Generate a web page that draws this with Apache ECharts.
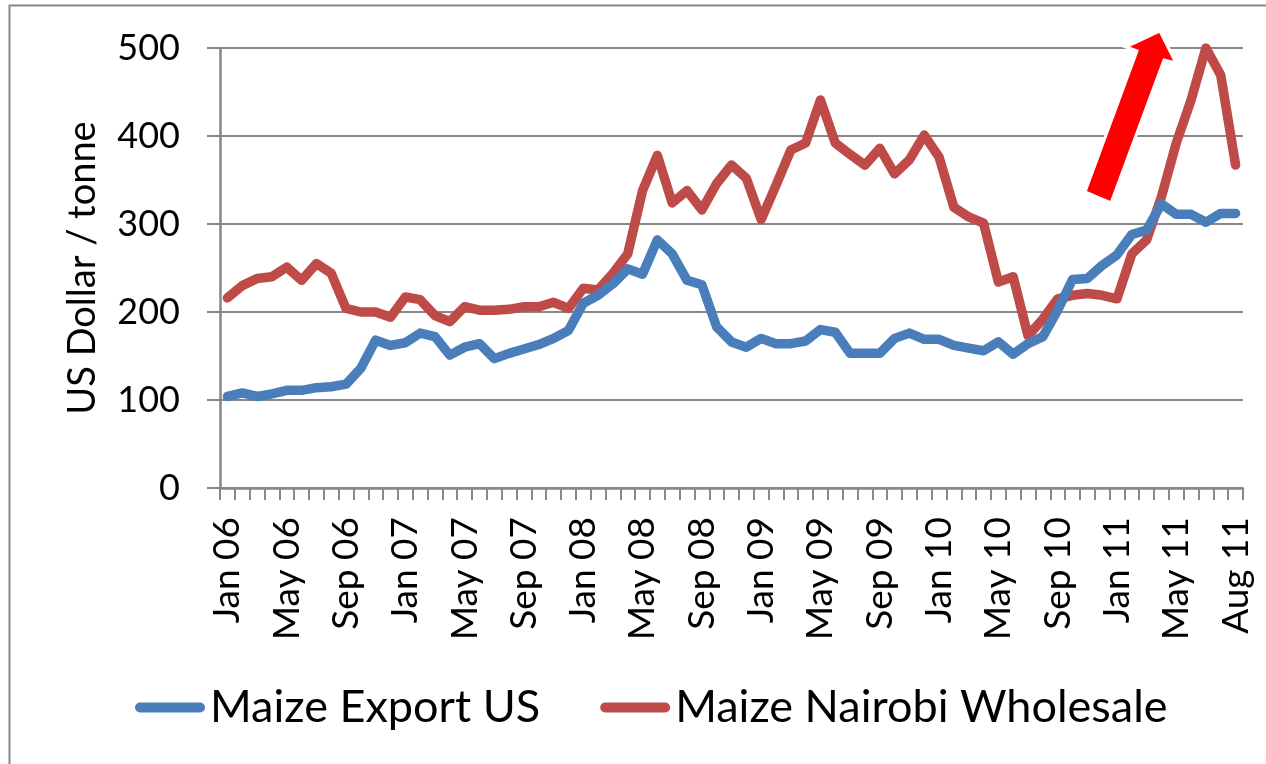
<!DOCTYPE html>
<html>
<head>
<meta charset="utf-8">
<script src="https://cdn.jsdelivr.net/npm/echarts@6/dist/echarts.min.js"></script>
<style>
html,body{margin:0;padding:0;background:#fff;}
#chart{width:1266px;height:764px;}
</style>
</head>
<body>
<div id="chart"></div>
<script>
const categories = [
  "Jan 06","Feb 06","Mar 06","Apr 06","May 06","Jun 06","Jul 06","Aug 06","Sep 06","Oct 06","Nov 06","Dec 06",
  "Jan 07","Feb 07","Mar 07","Apr 07","May 07","Jun 07","Jul 07","Aug 07","Sep 07","Oct 07","Nov 07","Dec 07",
  "Jan 08","Feb 08","Mar 08","Apr 08","May 08","Jun 08","Jul 08","Aug 08","Sep 08","Oct 08","Nov 08","Dec 08",
  "Jan 09","Feb 09","Mar 09","Apr 09","May 09","Jun 09","Jul 09","Aug 09","Sep 09","Oct 09","Nov 09","Dec 09",
  "Jan 10","Feb 10","Mar 10","Apr 10","May 10","Jun 10","Jul 10","Aug 10","Sep 10","Oct 10","Nov 10","Dec 10",
  "Jan 11","Feb 11","Mar 11","Apr 11","May 11","Jun 11","Jul 11","Jul 11","Aug 11"
];
const maizeExportUS = [
  104,108,104,107,111,111,114,115,118,136,
  168,162,165,176,172,151,160,164,147,153,
  158,163,170,179,210,219,232,249,243,282,
  266,236,231,183,166,160,170,164,164,167,
  180,177,153,153,153,170,176,169,169,162,
  159,156,166,152,164,172,202,237,238,253,
  265,288,293,323,311,311,302,312,312
];
const maizeNairobi = [
  216,230,238,240,251,236,255,244,204,200,
  200,194,217,214,196,189,206,202,202,203,
  206,206,211,204,227,225,244,266,338,378,
  324,338,316,346,367,352,305,344,384,392,
  441,392,379,367,386,357,373,401,376,319,
  308,301,234,240,173,192,215,219,221,219,
  215,266,282,331,392,441,500,469,367
];
const yTicks = [0,100,200,300,400,500];
const seriesNames = ["Maize Export US","Maize Nairobi Wholesale"];

const FONT = "Lato";
const GRAY = "#878787";
const BLUE = "#4A7EBB";
const RED = "#BE4B48";
const LEGEND_ICON = 'path://M5,0 L65,0 A5,5 0 0 1 65,10 L5,10 A5,5 0 0 1 5,0 Z';

const chart = echarts.init(document.getElementById('chart'), null, {renderer:'canvas'});
chart.setOption({
  animation:false,
  backgroundColor:'#ffffff',
  grid:{left:220,right:23,top:48,bottom:276},
  legend:{
    data:[{name:seriesNames[0],icon:LEGEND_ICON},{name:seriesNames[1],icon:LEGEND_ICON}],
    left:130, top:680,
    itemWidth:70, itemHeight:10, itemGap:60,
    textStyle:{fontFamily:FONT,fontSize:45,color:'#000'}
  },
  xAxis:{
    type:'category',
    data:categories,
    boundaryGap:true,
    axisLine:{lineStyle:{color:GRAY,width:2.5}},
    axisTick:{show:true,interval:0,length:12,lineStyle:{color:GRAY,width:2}},
    axisLabel:{
      interval:(i)=> i%4===0,
      rotate:90, margin:29,
      fontFamily:FONT,fontSize:37,color:'#000'
    },
    splitLine:{show:false}
  },
  yAxis:{
    type:'value',
    min:yTicks[0], max:yTicks[yTicks.length-1], interval:100,
    name:'US Dollar / tonne',
    nameLocation:'middle',
    nameGap:118,
    nameTextStyle:{fontFamily:FONT,fontSize:38,color:'#000'},
    axisLine:{show:true,lineStyle:{color:GRAY,width:2.5}},
    axisTick:{show:true,length:13,lineStyle:{color:GRAY,width:2}},
    axisLabel:{margin:40,fontFamily:FONT,fontSize:36,color:'#000'},
    splitLine:{show:true,lineStyle:{color:GRAY,width:2}}
  },
  series:[
    {name:seriesNames[0],type:'line',data:maizeExportUS,symbol:'none',
     lineStyle:{color:BLUE,width:9.5,join:'round',cap:'round'},
     itemStyle:{color:BLUE},z:3},
    {name:seriesNames[1],type:'line',data:maizeNairobi,symbol:'none',
     lineStyle:{color:RED,width:9.5,join:'round',cap:'round'},
     itemStyle:{color:RED},z:2}
  ],
  graphic:[
    {type:'rect',shape:{x:9.5,y:5.5,width:1300,height:800},
     style:{fill:'none',stroke:GRAY,lineWidth:2},silent:true,z:0},
    {type:'polygon',z:100,
     shape:{points:[[1085,192],[1111,203],[1164,60],[1176,63],[1160,31],[1126,47],[1137,51]]},
     style:{fill:'#FF0000',stroke:'#ffffff',lineWidth:3,lineJoin:'miter'}}
  ]
});
</script>
</body>
</html>
